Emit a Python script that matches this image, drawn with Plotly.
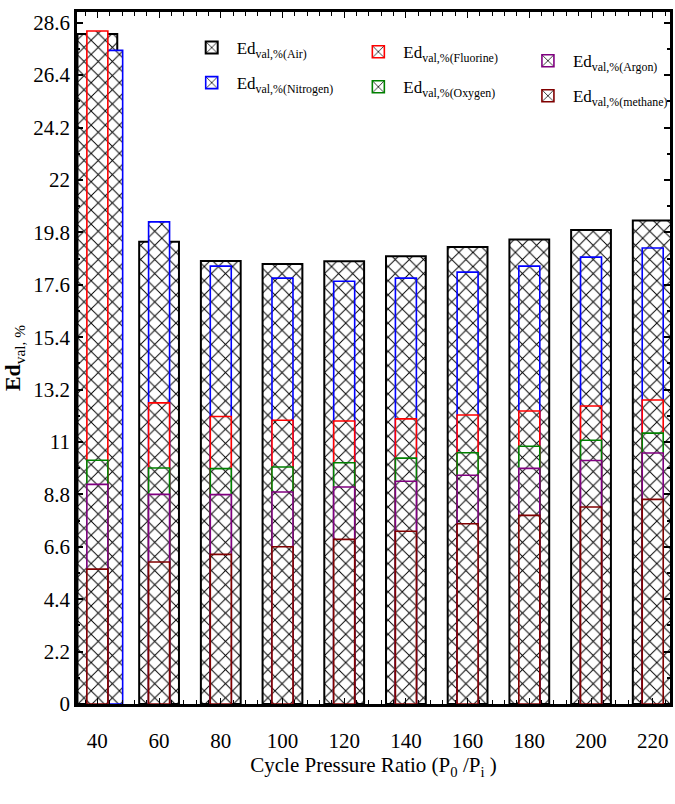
import plotly.graph_objects as go

ratios = [40, 60, 80, 100, 120, 140, 160, 180, 200, 220]
air = [28.13, 19.40, 18.60, 18.47, 18.59, 18.80, 19.18, 19.50, 19.90, 20.30]
nitrogen = [27.44, 20.24, 18.38, 17.88, 17.75, 17.88, 18.13, 18.38, 18.76, 19.14]
fluorine = [28.25, 12.64, 12.07, 11.91, 11.88, 11.97, 12.13, 12.30, 12.51, 12.76]
oxygen = [10.23, 9.91, 9.88, 9.95, 10.13, 10.32, 10.55, 10.82, 11.07, 11.37]
argon = [9.22, 8.80, 8.79, 8.90, 9.11, 9.35, 9.60, 9.89, 10.22, 10.54]
methane = [5.66, 5.96, 6.28, 6.60, 6.91, 7.25, 7.57, 7.92, 8.27, 8.59]

ytick_vals = [0, 2.2, 4.4, 6.6, 8.8, 11, 13.2, 15.4, 17.6, 19.8, 22, 24.2, 26.4, 28.6]
ytick_text = ["0", "2.2", "4.4", "6.6", "8.8", "11", "13.2", "15.4", "17.6", "19.8", "22", "24.2", "26.4", "28.6"]

FONT = "Liberation Serif, Times New Roman, serif"
WIDE = 12.9
NARROW = 6.8
# Nitrogen bar at 40 is shifted to the right in the original figure
nitrogen_offset = [1.4] + [-NARROW / 2] * 9

series = [
    ("Air", air, "#000000", "legend", WIDE, None, 2),
    ("Nitrogen", nitrogen, "#0000ff", "legend", NARROW, nitrogen_offset, 1.6),
    ("Fluorine", fluorine, "#ff0000", "legend2", NARROW, None, 1.6),
    ("Oxygen", oxygen, "#008000", "legend2", NARROW, None, 1.6),
    ("Argon", argon, "#800080", "legend3", NARROW, None, 1.6),
    ("methane", methane, "#800000", "legend3", NARROW, None, 1.6),
]

fig = go.Figure()
for name, vals, col, leg, w, off, lw in series:
    kw = dict(
        x=ratios, y=vals, name="Ed<sub>val,%(" + name + ")</sub>",
        width=w, legend=leg, legendgroup=name,
        marker=dict(
            color="white",
            line=dict(color=col, width=lw),
            pattern=dict(shape="x", size=10, solidity=0.18,
                         fgcolor="black", bgcolor="white", fillmode="replace"),
        ),
    )
    if off is not None:
        kw["offset"] = off
    fig.add_trace(go.Bar(**kw))

legend_common = dict(
    bgcolor="rgba(0,0,0,0)", font=dict(family=FONT, size=17, color="black"),
    xanchor="left", yanchor="top", traceorder="grouped", tracegroupgap=10,
    itemwidth=40,
)

fig.update_layout(
    width=675, height=804,
    barmode="overlay",
    paper_bgcolor="white", plot_bgcolor="white",
    margin=dict(l=77, r=2, t=12, b=100),
    font=dict(family=FONT, size=20, color="black"),
    legend=dict(x=0.185, y=0.974, **legend_common),
    legend2=dict(x=0.466, y=0.968, **legend_common),
    legend3=dict(x=0.752, y=0.955, **legend_common),
    xaxis=dict(
        range=[33.4, 225.6], tickvals=ratios, ticktext=[str(r) for r in ratios],
        ticks="inside", ticklen=6, tickwidth=1.2, tickcolor="black",
        minor=dict(dtick=4, tick0=0, ticks="inside", ticklen=4, tickcolor="black"),
        showline=True, linecolor="black", linewidth=2.5, mirror="allticks",
        showgrid=False, zeroline=False, automargin=False,
        tickfont=dict(family=FONT, size=21), ticklabelstandoff=16,
        title=dict(text="Cycle Pressure Ratio (P<sub>0</sub> /P<sub>i</sub> )",
                   font=dict(family=FONT, size=21), standoff=6),
    ),
    yaxis=dict(
        range=[0, 29.05], tickvals=ytick_vals, ticktext=ytick_text,
        ticks="inside", ticklen=6, tickwidth=1.5, tickcolor="black",
        minor=dict(dtick=1.1, tick0=0, ticks="inside", ticklen=3, tickcolor="black"),
        showline=True, linecolor="black", linewidth=2.5, mirror="allticks",
        showgrid=False, zeroline=False, automargin=False,
        tickfont=dict(family=FONT, size=21),
        title=dict(text="<b>Ed</b><sub>val, %</sub>", font=dict(family=FONT, size=22), standoff=8),
    ),
)

# remove the default 8px page margin so the figure fills the window exactly
fig.write_html("out.html",
               config={"displayModeBar": False},
               post_script="document.body.style.margin='0px';document.body.style.overflow='hidden';")
